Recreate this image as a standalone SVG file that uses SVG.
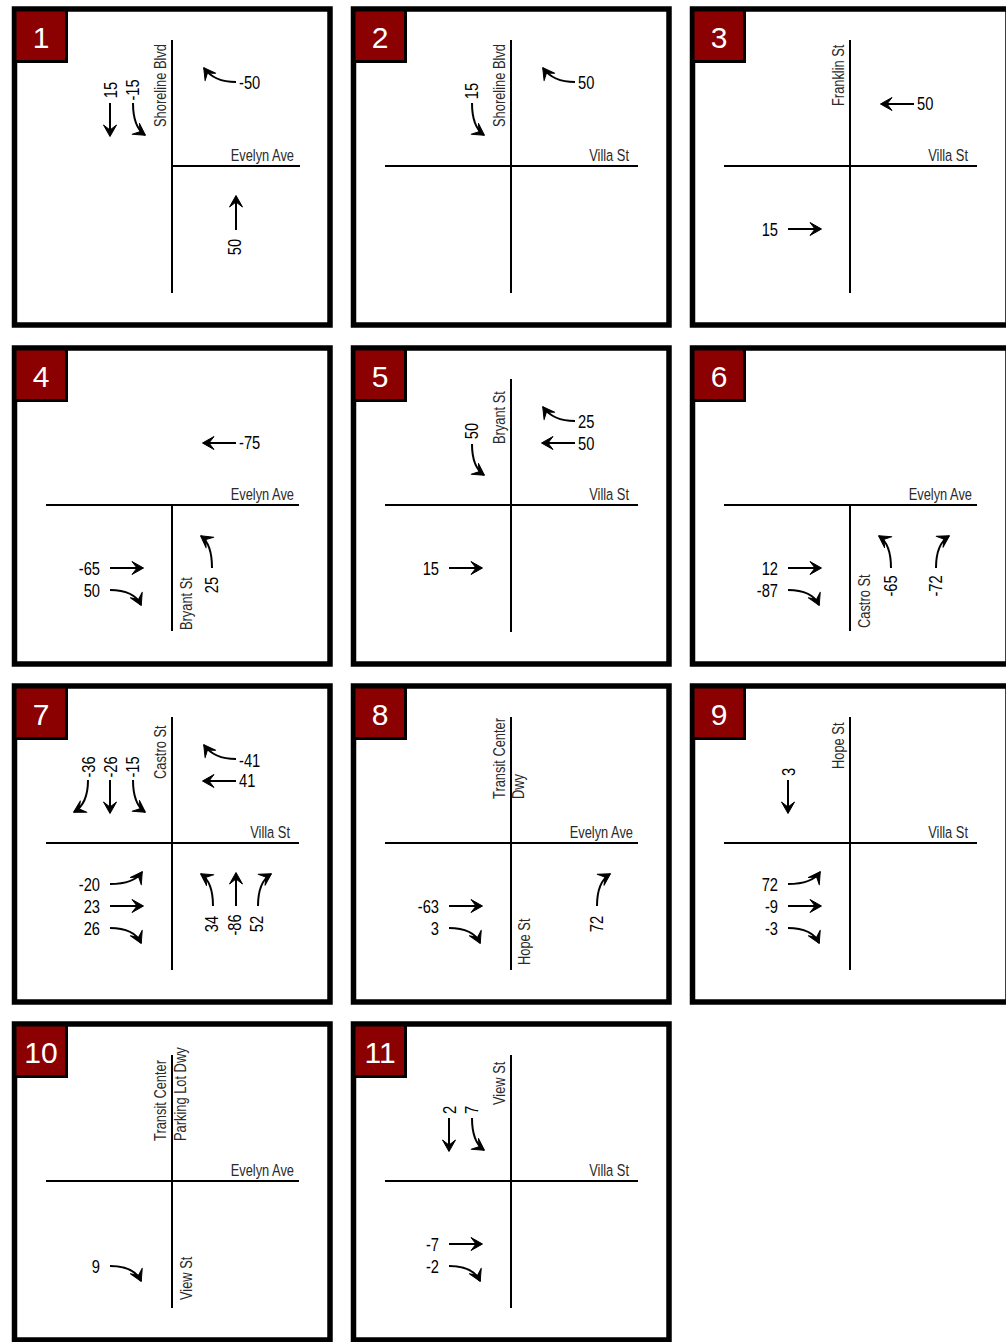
<svg xmlns="http://www.w3.org/2000/svg" width="1006" height="1342" viewBox="0 0 1006 1342">
<defs>
<style>
.frame{fill:#fff;stroke:#000;stroke-width:5.5}
.tag{fill:#8b0000;stroke:#000;stroke-width:3}
.tagt{font-family:"Liberation Sans",Arial,sans-serif;font-size:30px;fill:#fff;text-anchor:middle}
.road{stroke:#000;stroke-width:2;fill:none}
.rl{font-family:"Liberation Sans",Arial,sans-serif;font-size:16.5px;fill:#2a2a2a}
.n{font-family:"Liberation Sans",Arial,sans-serif;font-size:17.5px;fill:#000}
.mv{fill:none;stroke:#000;stroke-width:2;marker-end:url(#ah)}
.e{text-anchor:end}
.m{text-anchor:middle}
</style>
<marker id="ah" markerUnits="userSpaceOnUse" markerWidth="18" markerHeight="18" viewBox="-14 -9 18 18" refX="0" refY="0" orient="auto">
<path d="M0.5,0 L-11,-6.5 L-6,0 L-11,6.5 Z" fill="#000" stroke="#000" stroke-width="1" stroke-linejoin="round"/>
</marker>
</defs>
<rect width="1006" height="1342" fill="#fff"/>

<g id="panel-1" transform="translate(0,0)">
<rect class="frame" x="14.5" y="9" width="315.5" height="316"/>
<rect class="tag" x="15" y="10" width="51.5" height="51.5"/>
<text class="tagt" x="41" y="48">1</text>
<path class="road" d="M172,40V293M172,166H300"/>
<text class="rl" transform="translate(166,127) rotate(-90) scale(.78,1)">Shoreline Blvd</text>
<text class="rl e" transform="translate(294,161) scale(.78,1)">Evelyn Ave</text>
<g class="moves">
<path class="mv" d="M236,82 Q214,82 204,68"/>
<text class="n" transform="translate(239,89) scale(.84,1)">-50</text>
<path class="mv" d="M110,103 V136"/>
<text class="n m" transform="translate(117,90) rotate(-90) scale(.84,1)">15</text>
<path class="mv" d="M133,103 Q133,127 145,135"/>
<text class="n m" transform="translate(139,90) rotate(-90) scale(.84,1)">-15</text>
<path class="mv" d="M236,230 V196"/>
<text class="n m" transform="translate(241,247) rotate(-90) scale(.84,1)">50</text>
</g>
</g>

<g id="panel-2" transform="translate(339,0)">
<rect class="frame" x="14.5" y="9" width="315.5" height="316"/>
<rect class="tag" x="15" y="10" width="51.5" height="51.5"/>
<text class="tagt" x="41" y="48">2</text>
<path class="road" d="M172,40V293M46,166H299"/>
<text class="rl" transform="translate(166,127) rotate(-90) scale(.78,1)">Shoreline Blvd</text>
<text class="rl e" transform="translate(290,161) scale(.78,1)">Villa St</text>
<g class="moves">
<path class="mv" d="M236,82 Q214,82 204,68"/>
<text class="n" transform="translate(239,89) scale(.84,1)">50</text>
<path class="mv" d="M133,103 Q133,127 145,135"/>
<text class="n m" transform="translate(139,91) rotate(-90) scale(.84,1)">15</text>
</g>
</g>

<g id="panel-3" transform="translate(678,0)">
<rect class="frame" x="14.5" y="9" width="315.5" height="316"/>
<rect class="tag" x="15" y="10" width="51.5" height="51.5"/>
<text class="tagt" x="41" y="48">3</text>
<path class="road" d="M172,40V293M46,166H299"/>
<text class="rl" transform="translate(166,106) rotate(-90) scale(.78,1)">Franklin St</text>
<text class="rl e" transform="translate(290,161) scale(.78,1)">Villa St</text>
<g class="moves">
<path class="mv" d="M236,104 H203"/>
<text class="n" transform="translate(239,110) scale(.84,1)">50</text>
<path class="mv" d="M110,229 H143"/>
<text class="n e" transform="translate(100,236) scale(.84,1)">15</text>
</g>
</g>

<g id="panel-4" transform="translate(0,339)">
<rect class="frame" x="14.5" y="9" width="315.5" height="316"/>
<rect class="tag" x="15" y="10" width="51.5" height="51.5"/>
<text class="tagt" x="41" y="48">4</text>
<path class="road" d="M172,166V292M46,166H299"/>
<text class="rl e" transform="translate(294,161) scale(.78,1)">Evelyn Ave</text>
<text class="rl" transform="translate(192,291) rotate(-90) scale(.78,1)">Bryant St</text>
<g class="moves">
<path class="mv" d="M236,104 H203"/>
<text class="n" transform="translate(239,110) scale(.84,1)">-75</text>
<path class="mv" d="M110,229 H143"/>
<text class="n e" transform="translate(100,236) scale(.84,1)">-65</text>
<path class="mv" d="M110,251 Q134,251 141,266"/>
<text class="n e" transform="translate(100,258) scale(.84,1)">50</text>
<path class="mv" d="M212,229 Q212,205 201,197"/>
<text class="n m" transform="translate(218,246) rotate(-90) scale(.84,1)">25</text>
</g>
</g>

<g id="panel-5" transform="translate(339,339)">
<rect class="frame" x="14.5" y="9" width="315.5" height="316"/>
<rect class="tag" x="15" y="10" width="51.5" height="51.5"/>
<text class="tagt" x="41" y="48">5</text>
<path class="road" d="M172,40V293M46,166H299"/>
<text class="rl" transform="translate(166,105) rotate(-90) scale(.78,1)">Bryant St</text>
<text class="rl e" transform="translate(290,161) scale(.78,1)">Villa St</text>
<g class="moves">
<path class="mv" d="M236,82 Q214,82 204,68"/>
<text class="n" transform="translate(239,89) scale(.84,1)">25</text>
<path class="mv" d="M236,104 H203"/>
<text class="n" transform="translate(239,111) scale(.84,1)">50</text>
<path class="mv" d="M133,105 Q133,128 145,136"/>
<text class="n m" transform="translate(139,92) rotate(-90) scale(.84,1)">50</text>
<path class="mv" d="M110,229 H143"/>
<text class="n e" transform="translate(100,236) scale(.84,1)">15</text>
</g>
</g>

<g id="panel-6" transform="translate(678,339)">
<rect class="frame" x="14.5" y="9" width="315.5" height="316"/>
<rect class="tag" x="15" y="10" width="51.5" height="51.5"/>
<text class="tagt" x="41" y="48">6</text>
<path class="road" d="M172,166V292M46,166H299"/>
<text class="rl e" transform="translate(294,161) scale(.78,1)">Evelyn Ave</text>
<text class="rl" transform="translate(192,289) rotate(-90) scale(.78,1)">Castro St</text>
<g class="moves">
<path class="mv" d="M110,229 H143"/>
<text class="n e" transform="translate(100,236) scale(.84,1)">12</text>
<path class="mv" d="M110,251 Q134,251 141,266"/>
<text class="n e" transform="translate(100,258) scale(.84,1)">-87</text>
<path class="mv" d="M213,229 Q213,205 201,197"/>
<text class="n m" transform="translate(219,247) rotate(-90) scale(.84,1)">-65</text>
<path class="mv" d="M258,229 Q258,205 271,197"/>
<text class="n m" transform="translate(264,247) rotate(-90) scale(.84,1)">-72</text>
</g>
</g>

<g id="panel-7" transform="translate(0,677)">
<rect class="frame" x="14.5" y="9" width="315.5" height="316"/>
<rect class="tag" x="15" y="10" width="51.5" height="51.5"/>
<text class="tagt" x="41" y="48">7</text>
<path class="road" d="M172,40V293M46,166H299"/>
<text class="rl" transform="translate(166,102) rotate(-90) scale(.78,1)">Castro St</text>
<text class="rl e" transform="translate(290,161) scale(.78,1)">Villa St</text>
<g class="moves">
<path class="mv" d="M236,82 Q214,82 204,68"/>
<text class="n" transform="translate(239,90) scale(.84,1)">-41</text>
<path class="mv" d="M236,104 H203"/>
<text class="n" transform="translate(239,110) scale(.84,1)">41</text>
<path class="mv" d="M88,103 Q88,127 74,135"/>
<text class="n m" transform="translate(95,90) rotate(-90) scale(.84,1)">-36</text>
<path class="mv" d="M110,103 V136"/>
<text class="n m" transform="translate(117,90) rotate(-90) scale(.84,1)">-26</text>
<path class="mv" d="M133,103 Q133,127 145,135"/>
<text class="n m" transform="translate(139,90) rotate(-90) scale(.84,1)">-15</text>
<path class="mv" d="M110,207 Q134,207 142,195"/>
<text class="n e" transform="translate(100,214) scale(.84,1)">-20</text>
<path class="mv" d="M110,229 H143"/>
<text class="n e" transform="translate(100,236) scale(.84,1)">23</text>
<path class="mv" d="M110,251 Q134,251 141,266"/>
<text class="n e" transform="translate(100,258) scale(.84,1)">26</text>
<path class="mv" d="M213,229 Q213,205 201,197"/>
<text class="n m" transform="translate(218,247) rotate(-90) scale(.84,1)">34</text>
<path class="mv" d="M236,229 V196"/>
<text class="n m" transform="translate(241,248) rotate(-90) scale(.84,1)">-86</text>
<path class="mv" d="M258,229 Q258,205 271,197"/>
<text class="n m" transform="translate(263,247) rotate(-90) scale(.84,1)">52</text>
</g>
</g>

<g id="panel-8" transform="translate(339,677)">
<rect class="frame" x="14.5" y="9" width="315.5" height="316"/>
<rect class="tag" x="15" y="10" width="51.5" height="51.5"/>
<text class="tagt" x="41" y="48">8</text>
<path class="road" d="M172,40V293M46,166H299"/>
<text class="rl" transform="translate(166,122) rotate(-90) scale(.78,1)">Transit Center</text>
<text class="rl" transform="translate(185,122) rotate(-90) scale(.78,1)">Dwy</text>
<text class="rl e" transform="translate(294,161) scale(.78,1)">Evelyn Ave</text>
<text class="rl" transform="translate(191,288) rotate(-90) scale(.78,1)">Hope St</text>
<g class="moves">
<path class="mv" d="M110,229 H143"/>
<text class="n e" transform="translate(100,236) scale(.84,1)">-63</text>
<path class="mv" d="M110,251 Q134,251 141,266"/>
<text class="n e" transform="translate(100,258) scale(.84,1)">3</text>
<path class="mv" d="M258,229 Q258,205 271,197"/>
<text class="n m" transform="translate(264,247) rotate(-90) scale(.84,1)">72</text>
</g>
</g>

<g id="panel-9" transform="translate(678,677)">
<rect class="frame" x="14.5" y="9" width="315.5" height="316"/>
<rect class="tag" x="15" y="10" width="51.5" height="51.5"/>
<text class="tagt" x="41" y="48">9</text>
<path class="road" d="M172,40V293M46,166H299"/>
<text class="rl" transform="translate(166,92) rotate(-90) scale(.78,1)">Hope St</text>
<text class="rl e" transform="translate(290,161) scale(.78,1)">Villa St</text>
<g class="moves">
<path class="mv" d="M110,103 V136"/>
<text class="n m" transform="translate(117,95) rotate(-90) scale(.84,1)">3</text>
<path class="mv" d="M110,207 Q134,207 142,195"/>
<text class="n e" transform="translate(100,214) scale(.84,1)">72</text>
<path class="mv" d="M110,229 H143"/>
<text class="n e" transform="translate(100,236) scale(.84,1)">-9</text>
<path class="mv" d="M110,251 Q134,251 141,266"/>
<text class="n e" transform="translate(100,258) scale(.84,1)">-3</text>
</g>
</g>

<g id="panel-10" transform="translate(0,1015)">
<rect class="frame" x="14.5" y="9" width="315.5" height="316"/>
<rect class="tag" x="15" y="10" width="51.5" height="51.5"/>
<text class="tagt" x="41" y="48">10</text>
<path class="road" d="M172,40V293M46,166H299"/>
<text class="rl" transform="translate(166,126) rotate(-90) scale(.78,1)">Transit Center</text>
<text class="rl" transform="translate(186,126) rotate(-90) scale(.78,1)">Parking Lot Dwy</text>
<text class="rl e" transform="translate(294,161) scale(.78,1)">Evelyn Ave</text>
<text class="rl" transform="translate(192,285) rotate(-90) scale(.78,1)">View St</text>
<g class="moves">
<path class="mv" d="M110,251 Q134,251 141,266"/>
<text class="n e" transform="translate(100,258) scale(.84,1)">9</text>
</g>
</g>

<g id="panel-11" transform="translate(339,1015)">
<rect class="frame" x="14.5" y="9" width="315.5" height="316"/>
<rect class="tag" x="15" y="10" width="51.5" height="51.5"/>
<text class="tagt" x="41" y="48">11</text>
<path class="road" d="M172,40V293M46,166H299"/>
<text class="rl" transform="translate(166,90) rotate(-90) scale(.78,1)">View St</text>
<text class="rl e" transform="translate(290,161) scale(.78,1)">Villa St</text>
<g class="moves">
<path class="mv" d="M110,103 V136"/>
<text class="n m" transform="translate(117,95) rotate(-90) scale(.84,1)">2</text>
<path class="mv" d="M133,103 Q133,127 145,135"/>
<text class="n m" transform="translate(139,95) rotate(-90) scale(.84,1)">7</text>
<path class="mv" d="M110,229 H143"/>
<text class="n e" transform="translate(100,236) scale(.84,1)">-7</text>
<path class="mv" d="M110,251 Q134,251 141,266"/>
<text class="n e" transform="translate(100,258) scale(.84,1)">-2</text>
</g>
</g>
</svg>
